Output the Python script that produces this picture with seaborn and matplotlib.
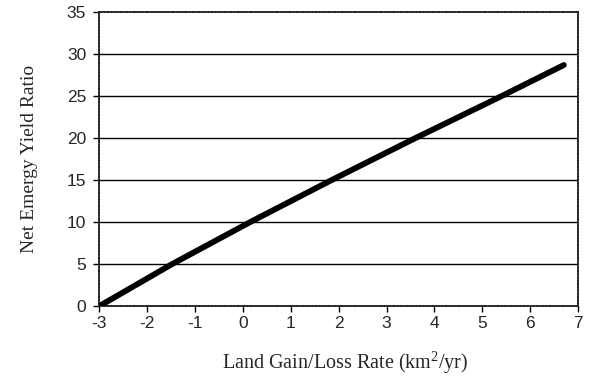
import matplotlib
matplotlib.use("Agg")
import matplotlib.pyplot as plt
import seaborn as sns
import pandas as pd

# Data
land_rate = [-3.0, -1.48, 0.15, 1.85, 3.6, 5.4, 6.7]
net_emergy = [0.0, 5.0, 10.0, 15.0, 20.0, 25.0, 28.7]
x_ticks = [-3, -2, -1, 0, 1, 2, 3, 4, 5, 6, 7]
y_ticks = [0, 5, 10, 15, 20, 25, 30, 35]

df = pd.DataFrame({"rate": land_rate, "ratio": net_emergy})

sns.set_theme(style="white")
plt.rcParams["font.family"] = ["Liberation Sans", "DejaVu Sans"]
plt.rcParams["mathtext.fontset"] = "custom"
plt.rcParams["mathtext.rm"] = "Liberation Serif"

fig = plt.figure(figsize=(5.9, 3.78), dpi=100)
ax = fig.add_axes([0.168, 0.19, 0.812, 0.778])

for y in y_ticks[1:-1]:
    ax.axhline(y, color="black", lw=1.0, zorder=1)

sns.lineplot(data=df, x="rate", y="ratio", ax=ax, color="black", lw=4.2,
             solid_capstyle="round", zorder=3)

ax.set_xlim(-3, 7)
ax.set_ylim(0, 35)
ax.set_xticks(x_ticks)
ax.set_yticks(y_ticks)
ax.set_xticklabels([str(v) for v in x_ticks], fontsize=12.5)
ax.set_yticklabels([str(v) for v in y_ticks], fontsize=12.5)
ax.tick_params(axis="both", direction="out", length=4.3, width=1, color="black",
               bottom=True, left=True)
ax.tick_params(axis="y", pad=5)
ax.tick_params(axis="x", pad=3)

for side in ["left", "right", "top", "bottom"]:
    ax.spines[side].set_visible(True)
    ax.spines[side].set_color("#222222")
    ax.spines[side].set_linewidth(1.3)
    ax.spines[side].set_linestyle((0, (1, 0.8)))

ax.set_xlabel("Land Gain/Loss Rate (km$\\mathregular{^{2}}$/yr)", fontsize=14.5,
              family=["Liberation Serif", "DejaVu Serif"], labelpad=13)
ax.xaxis.label.set_x(0.514)
ax.set_ylabel("Net Emergy Yield Ratio", fontsize=14,
              family=["Liberation Serif", "DejaVu Serif"], labelpad=21)

fig.savefig("out.png", dpi=100, facecolor="white")
